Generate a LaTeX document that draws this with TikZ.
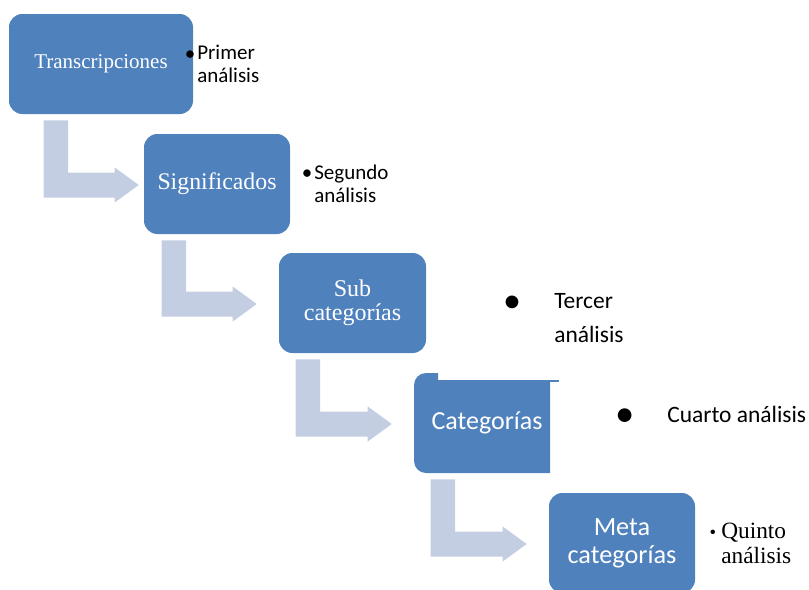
\documentclass[tikz,border=0pt]{standalone}
\usepackage{fontspec}
\setmainfont{Liberation Serif}
\newfontfamily\calibri{Carlito}
\usetikzlibrary{calc}

\definecolor{boxblue}{HTML}{4F81BD}
\definecolor{flowgray}{HTML}{C4CEE2}

\tikzset{
  box/.style={fill=boxblue, text=white, rounded corners=10pt,
    minimum height=75pt, inner sep=0pt, align=center},
  note/.style={anchor=base west, inner sep=0pt, align=left,
    font=\calibri\fontsize{15.75pt}{17.25pt}\selectfont},
  dot/.style={anchor=base, inner sep=0pt,
    font=\calibri\fontsize{15.75pt}{17.25pt}\selectfont},
  flow/.style={fill=flowgray}
}

\begin{document}
\begin{tikzpicture}[x=0.75pt, y=-0.75pt]
  \useasboundingbox (0,0) rectangle (809,589);

  % boxes
  \node[box, minimum width=138pt, font=\fontsize{15.75pt}{18pt}\selectfont]
    (t) at (101,64) {Transcripciones};
  \node[box, minimum width=109.5pt, font=\fontsize{17.85pt}{20pt}\selectfont]
    (s) at (217,184) {Significados};
  \node[box, minimum width=110.25pt, font=\fontsize{18pt}{18pt}\selectfont]
    (sc) at (352.5,303) {Sub\\categorías};
  \fill[boxblue] (550,381) -- (438,381) -- (438,373) -- (426,373)
    arc[start angle=90, end angle=180, radius=9pt] -- (414,461)
    arc[start angle=180, end angle=270, radius=9pt] -- (550,473) -- cycle;
  \draw[boxblue, line width=0.8pt] (438,381) -- (559,381);
  \node[box, fill=none, minimum width=109.5pt, font=\calibri\fontsize{19.5pt}{22pt}\selectfont]
    (c) at (487,423) {Categorías};
  \node[box, minimum width=109.5pt, font=\calibri\fontsize{19.7pt}{21pt}\selectfont]
    (m) at (622,543) {Meta\\categorías};

  % bent arrows
  \foreach \a/\b/\d/\g in {t/s/35/5, s/sc/18/22, sc/c/17/22, c/m/17/22} {
    \coordinate (top) at ($(\a.south west)+(\d,6)$);
    \coordinate (tip) at ($(\b.west)+(-\g,1)$);
    \fill[flow] (top) -- ++(24.5,0) -- ($(top |- tip)+(24.5,-12.5)$)
      -- ($(tip)+(-24,-12.5)$) -- ($(tip)+(-24,-17.5)$) -- (tip)
      -- ($(tip)+(-24,17.5)$) -- ($(tip)+(-24,12.5)$)
      -- ($(top |- tip)+(0,12.5)$) -- cycle;
  }

  % notes (anchored at the baseline of their last line)
  \node[note] (p1) at (197,82) {Primer\\análisis};
  \node[dot] (b1) at (190,60) {•};
  \node[note] (p2) at (314,202) {Segundo\\análisis};
  \node[dot] (b2) at (307,179) {•};
  \node[note, font=\calibri\fontsize{17.6pt}{25.5pt}\selectfont]
    (p3) at (554,342) {Tercer\\análisis};
  \node[dot, font=\calibri\fontsize{27pt}{27pt}\selectfont] (b3) at (512,312) {•};
  \node[note, font=\calibri\fontsize{17.6pt}{21pt}\selectfont]
    (p4) at (667,422) {Cuarto análisis};
  \node[dot, font=\calibri\fontsize{29pt}{29pt}\selectfont] (b4) at (625,426) {•};
  \node[note, font=\fontsize{17.5pt}{18.75pt}\selectfont]
    (p5) at (721,563) {Quinto\\análisis};
  \node[dot, font=\fontsize{14pt}{14pt}\selectfont] (b5) at (713,538) {•};
\end{tikzpicture}
\end{document}
